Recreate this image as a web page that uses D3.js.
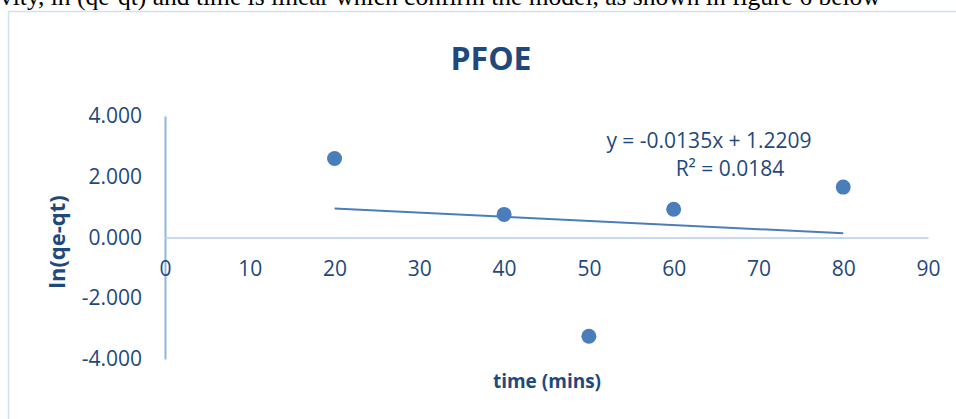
<!DOCTYPE html>
<html>
<head>
<meta charset="utf-8">
<script src="https://cdn.jsdelivr.net/npm/d3@7"></script>
<style>
  body { margin: 0; background: #fff; }
  svg { display: block; }
</style>
</head>
<body>
<svg id="chart"></svg>
<script>
// data
const times = [20, 40, 50, 60, 80];
const lnVals = [2.60, 0.76, -3.25, 0.93, 1.66];
const slope = -0.0135, intercept = 1.2209, r2 = 0.0184;
const xTicks = [0, 10, 20, 30, 40, 50, 60, 70, 80, 90];
const yTicks = [-4, -2, 0, 2, 4];
const pageLine = "vity, ln (qe-qt) and time is linear which confirm the model, as shown in figure 6 below";

const width = 956, height = 419;
const txtColor = "#1F497D", dotColor = "#4A7EBB";

const svg = d3.select("#chart").attr("width", width).attr("height", height);

// cut off line of document text above the chart
svg.append("text")
  .attr("x", 0).attr("y", 5)
  .style("font-family", "'Liberation Serif', serif")
  .style("font-size", "25.5px")
  .attr("fill", "#000")
  .text(pageLine);

// chart frame
svg.append("rect")
  .attr("x", 8.5).attr("y", 11.5)
  .attr("width", 1000).attr("height", 500)
  .attr("fill", "none")
  .attr("stroke", "#D3E0F2").attr("stroke-width", 1.5);

const x = d3.scaleLinear().domain([0, 90]).range([165, 928]);
const y = d3.scaleLinear().domain([-4, 4]).range([359, 116]);
const fmt = d => d3.format(".3f")(d).replace("\u2212", "-");

// y axis
const yAxis = svg.append("g").attr("transform", `translate(${x(0)},0)`)
  .call(d3.axisLeft(y).tickValues(yTicks).tickSize(0).tickPadding(23).tickFormat(fmt));
yAxis.select(".domain").attr("stroke", "#8EB4E3").attr("stroke-width", 2);
yAxis.selectAll("text")
  .style("font-family", "'Open Sans', sans-serif").style("font-size", "21px")
  .attr("fill", txtColor);

// x axis crossing at y=0
const xAxis = svg.append("g").attr("transform", `translate(0,${y(0)})`)
  .call(d3.axisBottom(x).tickValues(xTicks).tickSize(0).tickPadding(24));
xAxis.select(".domain").attr("stroke", "#C6D9F1").attr("stroke-width", 2);
xAxis.selectAll("text")
  .style("font-family", "'Open Sans', sans-serif").style("font-size", "21px")
  .attr("fill", txtColor);

// trendline
svg.append("line")
  .attr("x1", x(d3.min(times))).attr("y1", y(slope * d3.min(times) + intercept))
  .attr("x2", x(d3.max(times))).attr("y2", y(slope * d3.max(times) + intercept))
  .attr("stroke", dotColor).attr("stroke-width", 2);

// points
svg.selectAll(".dot").data(times).join("circle")
  .attr("class", "dot")
  .attr("cx", d => x(d))
  .attr("cy", (d, i) => y(lnVals[i]))
  .attr("r", 7.5)
  .attr("fill", dotColor);

// title
svg.append("text")
  .attr("x", 491).attr("y", 70)
  .attr("text-anchor", "middle")
  .style("font-family", "'Open Sans', sans-serif").style("font-size", "32px").style("font-weight", "bold")
  .attr("fill", txtColor)
  .text("PFOE");

// equation label
const lbl = svg.append("g")
  .style("font-family", "'Open Sans', sans-serif").style("font-size", "21px")
  .attr("fill", txtColor).attr("text-anchor", "middle");
lbl.append("text").attr("x", 709).attr("y", 148)
  .text(`y = ${slope}x + ${intercept}`);
lbl.append("text").attr("x", 730).attr("y", 176)
  .text(`R² = ${r2}`);

// axis titles
svg.append("text")
  .attr("x", 547).attr("y", 388)
  .attr("text-anchor", "middle")
  .style("font-family", "'Open Sans', sans-serif").style("font-size", "19px").style("font-weight", "bold")
  .attr("fill", txtColor)
  .text("time (mins)");

svg.append("text")
  .attr("transform", "translate(65,242) rotate(-90)")
  .attr("text-anchor", "middle")
  .style("font-family", "'Open Sans', sans-serif").style("font-size", "22px").style("font-weight", "bold")
  .attr("fill", txtColor)
  .text("ln(qe-qt)");
</script>
</body>
</html>
